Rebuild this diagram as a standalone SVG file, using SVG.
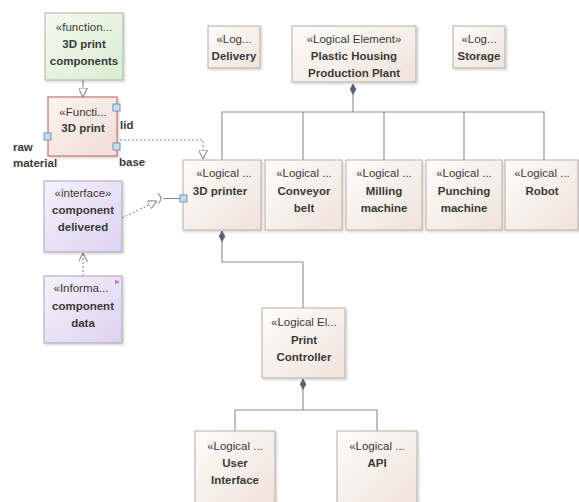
<svg xmlns="http://www.w3.org/2000/svg" width="579" height="502" viewBox="0 0 579 502">
  <defs>
    <linearGradient id="gLog" x1="0" y1="0" x2="1" y2="1">
      <stop offset="0" stop-color="#fefcfa"/>
      <stop offset="1" stop-color="#efe3da"/>
    </linearGradient>
    <linearGradient id="gFunc" x1="0" y1="0" x2="1" y2="1">
      <stop offset="0" stop-color="#f4faf1"/>
      <stop offset="1" stop-color="#d8ecd0"/>
    </linearGradient>
    <linearGradient id="gFuncR" x1="0" y1="0" x2="1" y2="1">
      <stop offset="0" stop-color="#fcf3f0"/>
      <stop offset="1" stop-color="#f0ddd6"/>
    </linearGradient>
    <linearGradient id="gIf" x1="0" y1="0" x2="1" y2="1">
      <stop offset="0" stop-color="#f5f1fc"/>
      <stop offset="1" stop-color="#ddd2f0"/>
    </linearGradient>
    <filter id="sh" x="-10%" y="-10%" width="130%" height="130%">
      <feDropShadow dx="1.5" dy="1.5" stdDeviation="1" flood-color="#000" flood-opacity="0.18"/>
    </filter>
    <marker id="tri" viewBox="0 0 10 10" refX="10" refY="5" markerWidth="9" markerHeight="9" orient="auto" markerUnits="userSpaceOnUse">
      <path d="M0,0 L10,5 L0,10 Z" fill="#fff" stroke="#8a8a96" stroke-width="1.2"/>
    </marker>
    <marker id="open" viewBox="0 0 10 10" refX="10" refY="5" markerWidth="9" markerHeight="9" orient="auto" markerUnits="userSpaceOnUse">
      <path d="M0,0 L10,5 L0,10" fill="none" stroke="#8a8a96" stroke-width="1.2"/>
    </marker>
    <marker id="dia" viewBox="0 0 12 8" refX="0" refY="4" markerWidth="12" markerHeight="7" orient="auto" markerUnits="userSpaceOnUse">
      <path d="M0,4 L6,0.5 L12,4 L6,7.5 Z" fill="#5a5f78" stroke="#5a5f78" stroke-width="0.6"/>
    </marker>
  </defs>
  <style>
    text { font-family: "Liberation Sans", Arial, sans-serif; font-size: 11.5px; fill: #3a3a3a; text-anchor: middle; }
    .n { font-weight: bold; }
    .lbl { font-weight: bold; text-anchor: start; }
    .log { fill: url(#gLog); stroke: #b9aea8; stroke-width: 1; filter: url(#sh); }
    .fn { fill: url(#gFunc); stroke: #a9b8a2; stroke-width: 1; filter: url(#sh); }
    .fnr { fill: url(#gFuncR); stroke: #c27474; stroke-width: 1.2; filter: url(#sh); }
    .if { fill: url(#gIf); stroke: #aaa2ba; stroke-width: 1; filter: url(#sh); }
    .port { fill: #c9dbf1; stroke: #7b93b3; stroke-width: 1; }
    .c { fill: none; stroke: #8a8a96; stroke-width: 1.1; }
    .d { fill: none; stroke: #8a8a96; stroke-width: 1.1; stroke-dasharray: 2 2; }
  </style>

  <rect width="579" height="502" fill="#ffffff"/>

  <!-- connectors -->
  <g id="connectors">
    <!-- composition: plant to its parts -->
    <path class="c" d="M353,84 V112" marker-start="url(#dia)"/>
    <path class="c" d="M222,160 V112 H544 V160 M303,112 V160 M384,112 V160 M464,112 V160"/>
    <!-- 3D printer to print controller -->
    <path class="c" d="M222,231 V262 H303 V308" marker-start="url(#dia)"/>
    <!-- print controller to its parts -->
    <path class="c" d="M303,379 V410" marker-start="url(#dia)"/>
    <path class="c" d="M235,431 V410 H377 V431"/>
    <!-- function realization -->
    <path class="c" d="M83,80 V97" marker-end="url(#tri)"/>
    <path class="d" d="M120,140 H203 V159" marker-end="url(#tri)"/>
    <!-- required interface -->
    <path class="d" d="M122,218 L157,201" marker-end="url(#tri)"/>
    <path class="c" d="M158,193.5 Q164,198.5 158,203.5"/>
    <path class="c" d="M163,198.5 H180"/>
    <!-- information flow -->
    <path class="d" d="M83,276 V253" marker-end="url(#open)"/>
  </g>

  <!-- function nodes -->
  <g id="fn-components">
    <rect class="fn" x="45" y="13" width="78" height="67"/>
    <text x="84" y="31">«function...</text>
    <text class="n" x="84" y="48">3D print</text>
    <text class="n" x="84" y="65">components</text>
  </g>
  <g id="fn-3dprint">
    <rect class="fnr" x="48" y="97" width="69" height="59"/>
    <text x="83" y="116">«Functi...</text>
    <text class="n" x="83" y="132">3D print</text>
    <rect class="port" x="113" y="104" width="7" height="7"/>
    <rect class="port" x="44" y="133" width="7" height="7"/>
    <rect class="port" x="113" y="143" width="7" height="7"/>
    <text class="lbl" x="120" y="129">lid</text>
    <text class="lbl" x="13" y="151">raw</text>
    <text class="lbl" x="13" y="167">material</text>
    <text class="lbl" x="119" y="166">base</text>
  </g>
  <g id="if-delivered">
    <rect class="if" x="44" y="181" width="78" height="71"/>
    <text x="83" y="197">«interface»</text>
    <text class="n" x="83" y="214">component</text>
    <text class="n" x="83" y="231">delivered</text>
  </g>
  <g id="info-data">
    <rect class="if" x="44" y="276" width="78" height="67"/>
    <path d="M115,279.5 L120,282 L115,284.5 Z" fill="#c080b8"/>
    <text x="81" y="292">«Informa...</text>
    <text class="n" x="83" y="310">component</text>
    <text class="n" x="83" y="327">data</text>
  </g>

  <!-- logical elements, top row -->
  <g id="le-delivery">
    <rect class="log" x="208" y="26" width="52" height="42"/>
    <text x="234" y="43">«Log...</text>
    <text class="n" x="234" y="60">Delivery</text>
  </g>
  <g id="le-plant">
    <rect class="log" x="292" y="26" width="124" height="56"/>
    <text x="354" y="43">«Logical Element»</text>
    <text class="n" x="354" y="60">Plastic Housing</text>
    <text class="n" x="354" y="77">Production Plant</text>
  </g>
  <g id="le-storage">
    <rect class="log" x="453" y="26" width="52" height="42"/>
    <text x="479" y="43">«Log...</text>
    <text class="n" x="479" y="60">Storage</text>
  </g>

  <!-- logical elements, parts of the plant -->
  <g id="le-3dprinter">
    <rect class="log" x="183" y="160" width="78" height="70"/>
    <rect class="port" x="180" y="195" width="7" height="7"/>
    <text x="224" y="177">«Logical ...</text>
    <text class="n" x="220" y="195">3D printer</text>
  </g>
  <g id="le-conveyor">
    <rect class="log" x="265" y="160" width="77" height="70"/>
    <text x="304" y="177">«Logical ...</text>
    <text class="n" x="304" y="195">Conveyor</text>
    <text class="n" x="304" y="212">belt</text>
  </g>
  <g id="le-milling">
    <rect class="log" x="346" y="160" width="76" height="70"/>
    <text x="384" y="177">«Logical ...</text>
    <text class="n" x="384" y="195">Milling</text>
    <text class="n" x="384" y="212">machine</text>
  </g>
  <g id="le-punching">
    <rect class="log" x="426" y="160" width="76" height="70"/>
    <text x="464" y="177">«Logical ...</text>
    <text class="n" x="464" y="195">Punching</text>
    <text class="n" x="464" y="212">machine</text>
  </g>
  <g id="le-robot">
    <rect class="log" x="505" y="160" width="73" height="70"/>
    <text x="542" y="177">«Logical ...</text>
    <text class="n" x="542" y="195">Robot</text>
  </g>

  <!-- print controller and its parts -->
  <g id="le-controller">
    <rect class="log" x="262" y="308" width="83" height="70"/>
    <text x="304" y="326">«Logical El...</text>
    <text class="n" x="304" y="344">Print</text>
    <text class="n" x="304" y="361">Controller</text>
  </g>
  <g id="le-ui">
    <rect class="log" x="195" y="431" width="80" height="72"/>
    <text x="235" y="450">«Logical ...</text>
    <text class="n" x="235" y="467">User</text>
    <text class="n" x="235" y="484">Interface</text>
  </g>
  <g id="le-api">
    <rect class="log" x="337" y="431" width="80" height="72"/>
    <text x="377" y="450">«Logical ...</text>
    <text class="n" x="377" y="467">API</text>
  </g>
</svg>
